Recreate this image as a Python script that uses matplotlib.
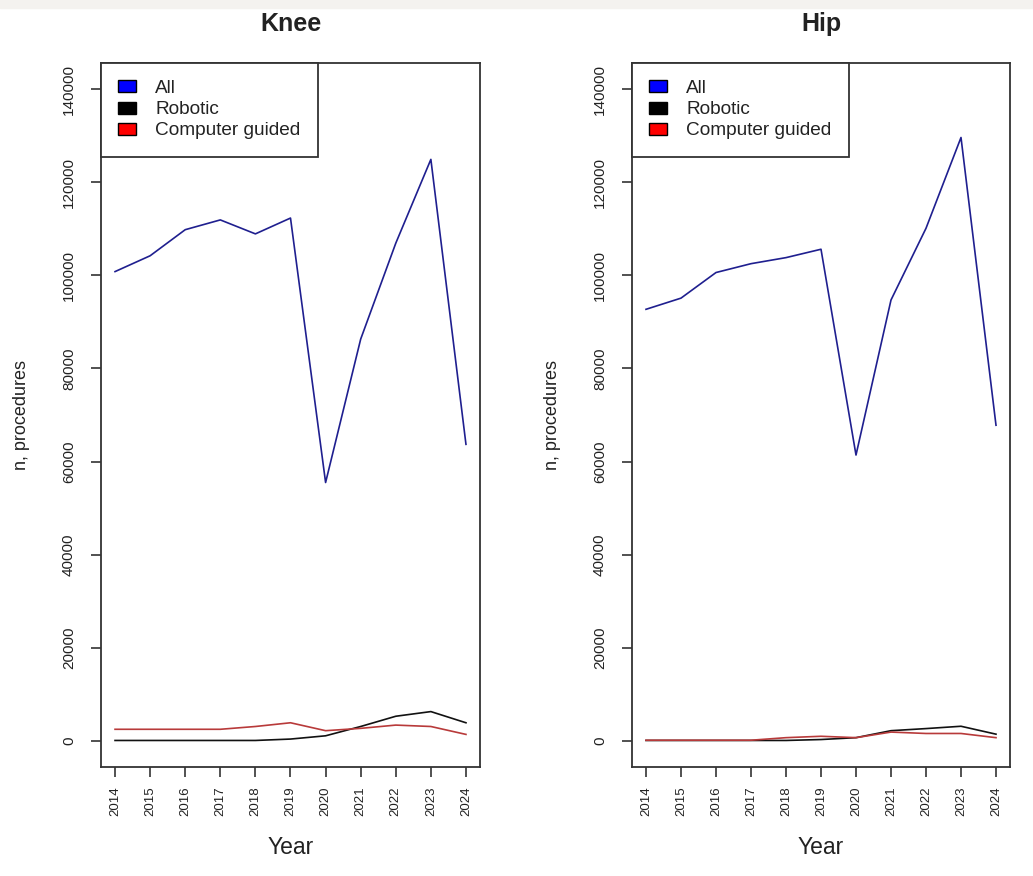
import matplotlib.pyplot as plt
from matplotlib.patches import Patch, Rectangle

plt.rcParams['font.family'] = ['Liberation Sans', 'DejaVu Sans']

years = [2014, 2015, 2016, 2017, 2018, 2019, 2020, 2021, 2022, 2023, 2024]

knee_all = [100800, 104200, 109800, 111900, 108900, 112300, 55500, 86300, 106900, 124900, 63700]
knee_robotic = [100, 100, 100, 100, 100, 400, 1100, 3100, 5300, 6300, 3900]
knee_cg = [2500, 2500, 2500, 2500, 3100, 3900, 2200, 2700, 3400, 3100, 1400]

hip_all = [92700, 95100, 100600, 102500, 103800, 105600, 61400, 94700, 110100, 129600, 67800]
hip_robotic = [100, 100, 100, 100, 100, 300, 700, 2200, 2650, 3150, 1450]
hip_cg = [150, 150, 150, 150, 700, 1000, 700, 1900, 1600, 1600, 700]

titles = ["Knee", "Hip"]
yticks = [0, 20000, 40000, 60000, 80000, 100000, 120000, 140000]

fig = plt.figure(figsize=(10.33, 8.76), dpi=100)
fig.patches.append(Rectangle((0, 1 - 8 / 876), 1, 8 / 876, transform=fig.transFigure,
                             color="#f4f2ef", zorder=0))

panels = [(101, 480, knee_all, knee_robotic, knee_cg),
          (632, 1010, hip_all, hip_robotic, hip_cg)]

for (x0, x1, s_all, s_rob, s_cg), title in zip(panels, titles):
    ax = fig.add_axes([x0 / 1033, 1 - 767 / 876, (x1 - x0) / 1033, (767 - 63) / 876])
    ax.plot(years, s_all, color="#1f1f8f", lw=1.2)
    ax.plot(years, s_rob, color="#111111", lw=1.2)
    ax.plot(years, s_cg, color="#b83a3a", lw=1.2)
    ax.set_xlim(2013.6, 2024.4)
    ax.set_ylim(-5600, 145600)
    ax.set_yticks(yticks)
    ax.set_yticklabels([str(v) for v in yticks], rotation=90, va="center", fontsize=11, color="#222222")
    ax.set_xticks(years)
    ax.set_xticklabels([str(y) for y in years], rotation=90, fontsize=9.5, color="#222222")
    ax.tick_params(length=7, width=1.2, color="#333333")
    ax.tick_params(axis="y", pad=11)
    ax.tick_params(axis="x", pad=7)
    for sp in ax.spines.values():
        sp.set_linewidth(1.3)
        sp.set_color("#333333")
    ax.set_title(title, fontsize=18, fontweight="bold", pad=23, color="#222222")
    ax.set_ylabel("n, procedures", fontsize=13, color="#222222", labelpad=23)
    ax.set_xlabel("Year", fontsize=16.5, color="#222222", labelpad=14)
    handles = [Patch(facecolor="#0000ff", edgecolor="black", label="All"),
               Patch(facecolor="black", edgecolor="black", label="Robotic"),
               Patch(facecolor="#ff0000", edgecolor="black", label="Computer guided")]
    leg = ax.legend(handles=handles, loc="upper left", borderaxespad=0, fancybox=False,
                    framealpha=1, edgecolor="#333333", fontsize=13.7, handlelength=0.95,
                    handleheight=0.6, labelspacing=0.22, borderpad=0.9, handletextpad=1.0)
    leg.get_frame().set_linewidth(1.3)
    for t in leg.get_texts():
        t.set_color("#222222")

fig.savefig("out.png", dpi=100)
